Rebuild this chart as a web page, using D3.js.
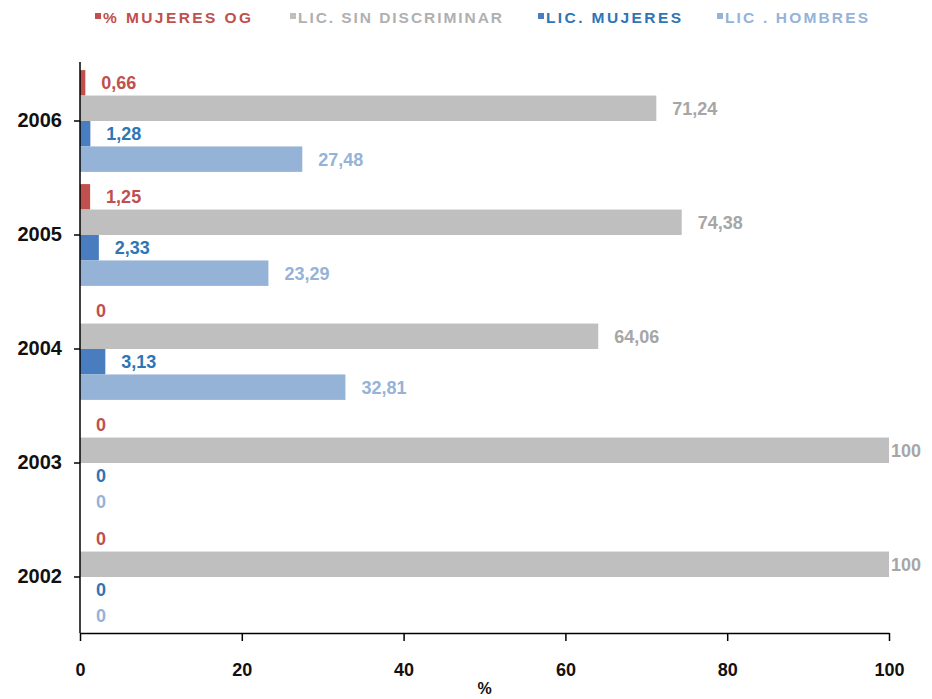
<!DOCTYPE html>
<html><head><meta charset="utf-8">
<script src="https://cdn.jsdelivr.net/npm/d3@7"></script>
<style>body{margin:0;background:#fff}svg{display:block}text{font-family:"Liberation Sans",Arial,sans-serif}</style>
</head><body><div id="chart"></div>
<script>
const years = ["2006","2005","2004","2003","2002"];
const seriesNames = ["% MUJERES OG","LIC. SIN DISCRIMINAR","LIC. MUJERES","LIC . HOMBRES"];
const mujeresOG = [0.66, 1.25, 0, 0, 0];
const sinDiscriminar = [71.24, 74.38, 64.06, 100, 100];
const licMujeres = [1.28, 2.33, 3.13, 0, 0];
const licHombres = [27.48, 23.29, 32.81, 0, 0];
const xTicks = [0,20,40,60,80,100];
const barColors = ["#c0504d","#bfbfbf","#4a7cc0","#95b3d7"];
const labelColors = ["#c0504d","#a6a6a6","#2e75b6","#95b3d7"];
const legendTextLen = [148, 204, 135, 143];

const series = [mujeresOG, sinDiscriminar, licMujeres, licHombres];
const W = 932, H = 699;
const svg = d3.select("#chart").append("svg").attr("width", W).attr("height", H);

const x = d3.scaleLinear().domain([0,100]).range([80, 889]);
const y = d3.scaleBand().domain(years).range([64, 634]).paddingInner(0.107).paddingOuter(0.0535);
const inner = d3.scaleBand().domain(d3.range(4)).range([0, y.bandwidth()]);

// bars
series.forEach((vals, si) => {
  svg.append("g").selectAll("rect").data(years).join("rect")
    .attr("x", x(0))
    .attr("y", (d) => y(d) + inner(si))
    .attr("width", (d, i) => x(vals[i]) - x(0))
    .attr("height", inner.bandwidth())
    .attr("fill", barColors[si]);
  svg.append("g").selectAll("text").data(years).join("text")
    .attr("x", (d, i) => Math.min(x(vals[i]) + 16, x(100) + 2))
    .attr("y", (d) => y(d) + inner(si) + inner.bandwidth() / 2)
    .attr("dy", "0.36em")
    .attr("font-size", 18).attr("font-weight", "bold")
    .attr("fill", labelColors[si])
    .text((d, i) => String(vals[i]).replace(".", ","));
});

// axes
const xAxis = svg.append("g").attr("transform", `translate(0,633)`)
  .call(d3.axisBottom(x).tickValues(xTicks).tickSize(8).tickSizeOuter(0).tickPadding(22));
xAxis.select(".domain").attr("stroke", "#000").attr("stroke-width", 1.5);
xAxis.selectAll(".tick line").attr("stroke", "#000").attr("stroke-width", 1.5);
xAxis.selectAll("text").attr("font-size", 18).attr("font-weight", "bold").attr("fill", "#111")
  .attr("font-family", '"Liberation Sans",Arial,sans-serif');

const yAxis = svg.append("g").attr("transform", `translate(80,0)`)
  .call(d3.axisLeft(y).tickSize(6).tickSizeOuter(0).tickPadding(12));
yAxis.select(".domain").attr("stroke", "#000").attr("stroke-width", 1.5)
  .attr("d", "M0,62V633");
yAxis.selectAll(".tick line").attr("stroke", "#000").attr("stroke-width", 1.5);
yAxis.selectAll("text").attr("font-size", 20).attr("font-weight", "bold").attr("fill", "#111")
  .attr("font-family", '"Liberation Sans",Arial,sans-serif');

svg.append("text").attr("x", x(50)).attr("y", 694).attr("text-anchor", "middle")
  .attr("font-size", 16).attr("font-weight", "bold").attr("fill", "#111").text("%");

// legend
const legendX = [95, 290, 538, 717];
const lg = svg.append("g");
seriesNames.forEach((n, i) => {
  lg.append("rect").attr("x", legendX[i]).attr("y", 13).attr("width", 6).attr("height", 6).attr("fill", barColors[i]);
  lg.append("text").attr("x", legendX[i] + 8).attr("y", 22.5)
    .attr("font-size", 15.5).attr("font-weight", "bold")
    .attr("fill", i === 1 ? "#b0b0b0" : labelColors[i])
    .attr("textLength", legendTextLen[i]).attr("lengthAdjust", "spacing")
    .text(n);
});
</script></body></html>
